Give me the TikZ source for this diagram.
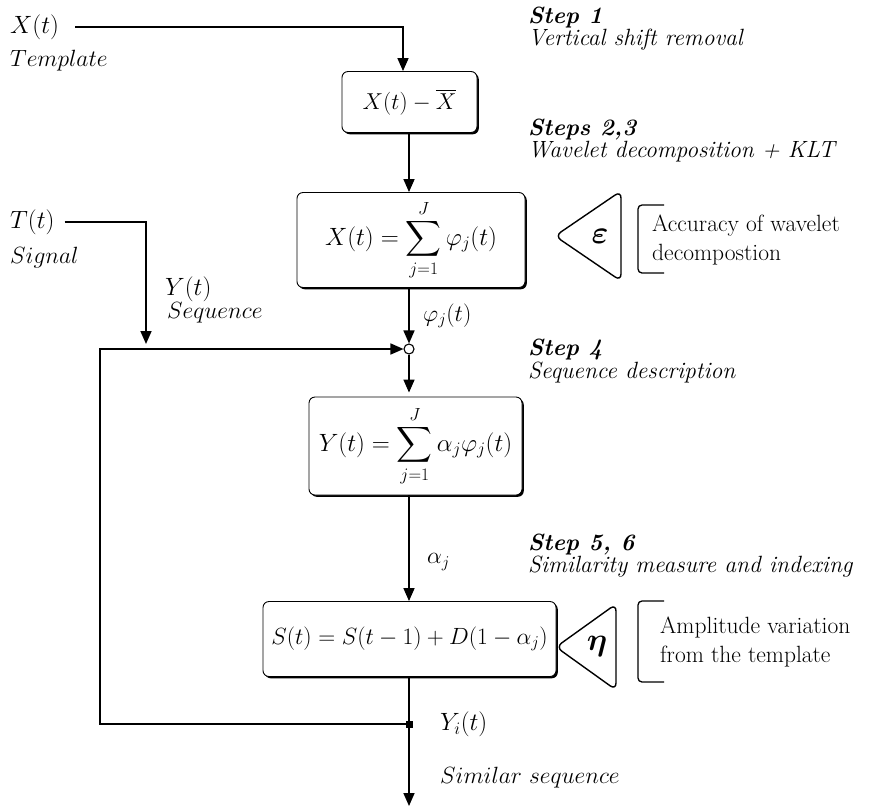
\documentclass[tikz,border=0pt]{standalone}
\usepackage{fix-cm}
\usepackage{fontspec}
\usepackage{amsmath,bm}
\usetikzlibrary{arrows.meta,shadows}

\newcommand{\txtsize}{\fontsize{23.5}{23.5}\selectfont}
\newcommand{\lblsize}{\fontsize{25}{25}\selectfont}
\newcommand{\boxsize}{\fontsize{25}{25}\selectfont}

\tikzset{
  conn/.style={line width=1.6pt},
  arr/.style={conn, -{Triangle[length=13pt,width=11pt]}},
  proc/.style={draw, line width=0.9pt, rounded corners=6pt, fill=white,
    inner sep=0pt, font=\boxsize,
    drop shadow={shadow xshift=1.8pt, shadow yshift=-1.8pt, opacity=1, fill=black}},
  tri/.style={draw, line width=1.4pt, rounded corners=7pt},
  brk/.style={draw, line width=1.3pt, rounded corners=4pt},
  txt/.style={anchor=west, inner sep=0pt, font=\txtsize},
  lbl/.style={anchor=west, inner sep=0pt, font=\lblsize},
  steptitle/.style={anchor=west, inner sep=0pt, font=\txtsize\bfseries\itshape},
  stepdesc/.style={anchor=west, inner sep=0pt, font=\txtsize\itshape},
  note/.style={anchor=west, inner sep=0pt, font=\txtsize, align=left},
}

\begin{document}
\begin{tikzpicture}[x=1pt,y=-1pt]
\useasboundingbox (0,0) rectangle (869,807);
\fill[white] (0,0) rectangle (869,807);

% processing blocks
\node[proc, minimum width=135pt, minimum height=61pt, font=\fontsize{23}{23}\selectfont] (b1) at (409.5,102) {$X(t)-\overline{X}$};
\node[proc, minimum width=228pt, minimum height=95pt] (b2) at (411,240) {$\displaystyle X(t)=\sum_{j=1}^{J}\varphi_j(t)$};
\node[draw, circle, line width=1.1pt, minimum size=10pt, inner sep=0pt] (sum) at (409,349) {};
\node[proc, minimum width=213pt, minimum height=98pt] (b3) at (415.5,446) {$\displaystyle Y(t)=\sum_{j=1}^{J}\alpha_j\varphi_j(t)$};
\node[proc, minimum width=293pt, minimum height=75pt, font=\fontsize{23.5}{23.5}\selectfont] (b4) at (409.5,639) {$S(t)=S(t-1)+D(1-\alpha_j)$};
\node[fill=black, minimum size=7pt, inner sep=0pt] (tap) at (409,724) {};

% inputs and signal labels
\node[lbl] (xin) at (10,27) {$X(t)$};
\node[txt] (xname) at (10,61) {$Template$};
\node[lbl] (tin) at (10,222) {$T(t)$};
\node[txt] (tname) at (10,258) {$Signal$};
\node[lbl] (yin) at (165,289) {$Y(t)$};
\node[txt] (yname) at (167,313) {$Sequence$};
\node[txt] (phi) at (423,316) {$\varphi_j(t)$};
\node[txt] (alpha) at (427,562) {$\alpha_j$};
\node[lbl] (yout) at (440,724) {$Y_i(t)$};
\node[txt] (oname) at (440,778) {$Similar\ sequence$};

% step descriptions
\node[steptitle] (s1) at (528,18) {Step 1};
\node[stepdesc] (s1d) at (528,40) {Vertical shift removal};
\node[steptitle] (s2) at (528,130) {Steps 2,3};
\node[stepdesc] (s2d) at (528,152) {Wavelet decomposition + KLT};
\node[steptitle] (s4) at (528,350) {Step 4};
\node[stepdesc] (s4d) at (528,372) {Sequence description};
\node[steptitle] (s5) at (528,545) {Step 5, 6};
\node[stepdesc] (s5d) at (528,567) {Similarity measure and indexing};

% parameter triangles with their brackets
\draw[tri] (621,191) -- (621,281) -- (555,236) -- cycle;
\node[font=\fontsize{32}{32}\selectfont] (eps) at (600,236) {$\bm{\varepsilon}$};
\draw[brk] (664,205) -- (638,205) -- (638,273) -- (664,273);
\node[note] (epsnote) at (652,240) {Accuracy of wavelet\\[5pt]decompostion};

\draw[tri] (616,604) -- (616,690) -- (556,647) -- cycle;
\node[font=\fontsize{32}{32}\selectfont] (eta) at (597,646) {$\bm{\eta}$};
\draw[brk] (664,601) -- (638,601) -- (638,682) -- (664,682);
\node[note] (etanote) at (660,642) {Amplitude variation\\[5pt]from the template};

% connectors
\coordinate (axis) at (409,0);
\coordinate (tdrop) at (146,344);
\coordinate (loop) at (100,724);
\coordinate (out) at (409,806);
\draw[arr] ([xshift=16pt]xin.east) -| ([xshift=-6.5pt]b1.north);
\draw[arr] (b1.south -| axis) -- (b2.north -| axis);
\draw[arr] (b2.south -| axis) -- (sum.north);
\draw[arr] (sum.south) -- ([yshift=4pt]b3.north -| axis);
\draw[arr] (b3.south -| axis) -- (b4.north -| axis);
\draw[arr] (b4.south -| axis) -- (out);
\draw[arr] ([xshift=10pt]tin.east) -| (tdrop);
\draw[arr] (tap.center) -- (loop) |- (sum.west);
\end{tikzpicture}
\end{document}
